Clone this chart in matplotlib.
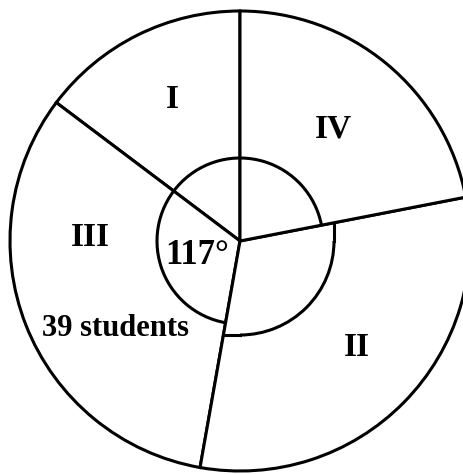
import matplotlib
matplotlib.use("Agg")
import matplotlib.pyplot as plt
from matplotlib.patches import Arc
import numpy as np

# sector angles in degrees, counterclockwise from the top
sectors = ["I", "III", "II", "IV"]
degrees = [53, 117, 111, 79]
angle_label = "117°"
count_label = "39 students"

# figure in pixel units
W, H = 463, 475
cx, cy = 240, 234
R = 230
r_inner = 83
r_right = 94
lw = 2.2

fig = plt.figure(figsize=(W / 100, H / 100), dpi=100)
ax = fig.add_axes([0, 0, 1, 1])

ax.pie(degrees, startangle=90, counterclock=True, center=(cx, cy), radius=R,
       colors=["white"] * len(degrees),
       wedgeprops=dict(edgecolor="black", linewidth=lw), frame=True)
ax.set_xlim(0, W)
ax.set_ylim(0, H)
ax.set_aspect("equal")
ax.axis("off")

# boundaries between sectors
bounds = 90 + np.cumsum([0] + degrees)
a_right = bounds[3] - 360   # line between II and IV
a_bottom = bounds[2]         # line between III and II

# inner marker circle: arc through IV, I, III
ax.add_patch(Arc((cx, cy), 2 * r_inner, 2 * r_inner, theta1=a_right, theta2=a_bottom,
                 color="black", lw=lw))
# larger quarter arc in II with straight ends to the lines
ax.add_patch(Arc((cx, cy), 2 * r_right, 2 * r_right, theta1=270, theta2=360,
                 color="black", lw=lw))
yr = cy + r_right * np.tan(np.radians(a_right))
ax.plot([cx + r_right, cx + r_right], [cy, yr], color="black", lw=lw)
xb = cx - r_right / np.tan(np.radians(a_bottom))
ax.plot([cx, xb], [cy - r_right, cy - r_right], color="black", lw=lw)

font = dict(family="Liberation Serif", fontweight="bold", color="black",
            ha="center", va="center")
label_pos = {"I": (172, 376), "III": (90, 237), "II": (357, 128), "IV": (333, 346)}
for name in sectors:
    x, y = label_pos[name]
    ax.text(x, y, name, fontsize=24, **font)
ax.text(197, 220, angle_label, fontsize=25, **font)
ax.text(115, 147, count_label, fontsize=22, **font)

fig.savefig("out.png", dpi=100, facecolor="white")
